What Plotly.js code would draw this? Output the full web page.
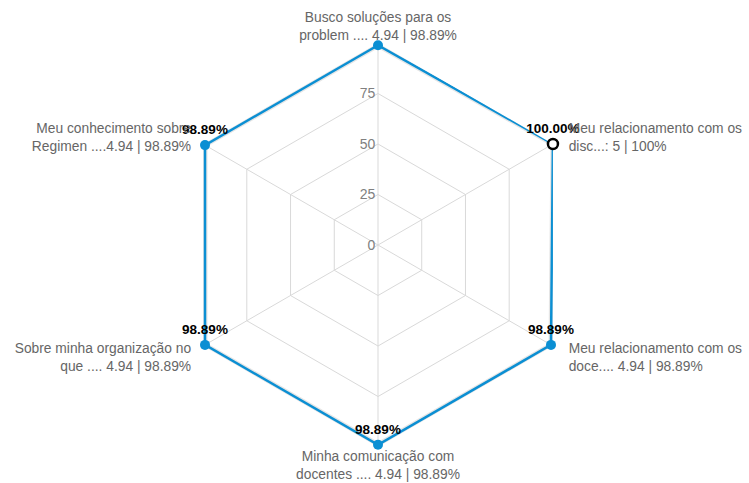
<!DOCTYPE html>
<html>
<head>
<meta charset="utf-8">
<script src="https://cdn.plot.ly/plotly-3.0.1.min.js"></script>
<style>html,body{margin:0;padding:0;background:#fff;}#chart{width:749px;height:483px;}</style>
</head>
<body>
<div id="chart"></div>
<script>
const NB = "\u00a0\u00a0\u00a0\u00a0";
const NBL = "\u00a0\u00a0\u00a0";
const categories = [
  "Busco soluções para os<br>problem .... 4.94 | 98.89%",
  NB + "Meu relacionamento com os<br>" + NB + "disc...: 5 | 100%",
  NB + "Meu relacionamento com os<br>" + NB + "doce.... 4.94 | 98.89%",
  "Minha comunicação com<br>docentes .... 4.94 | 98.89%",
  "Sobre minha organização no" + NBL + "<br>que .... 4.94 | 98.89%" + NBL,
  "Meu conhecimento sobre" + NBL + "<br>Regimen ....4.94 | 98.89%" + NBL
];
const values = [98.89, 100, 98.89, 98.89, 98.89, 98.89];
const pointLabels = ["", "100.00%", "98.89%", "98.89%", "98.89%", "98.89%"];
const radialTicks = [0, 25, 50, 75, 100];
const radialTickText = ["0", "25", "50", "75", ""];

const blue = "#0b8fd3";
const markerColors = values.map(v => v >= 100 ? "#ffffff" : blue);
const markerLines = values.map(v => v >= 100 ? "#000000" : blue);

const closedTheta = categories.concat([categories[0]]);
const closedR = values.concat([values[0]]);

const traces = [
  {
    type: "scatterpolar",
    r: closedR,
    theta: closedTheta,
    mode: "lines",
    line: {color: "rgba(0,0,0,0.10)", width: 5},
    hoverinfo: "skip",
    showlegend: false
  },
  {
    type: "scatterpolar",
    r: closedR,
    theta: closedTheta,
    mode: "lines",
    line: {color: blue, width: 2.5},
    hoverinfo: "skip",
    showlegend: false
  },
  {
    type: "scatterpolar",
    r: values,
    theta: categories,
    mode: "markers+text",
    text: pointLabels,
    textposition: "top center",
    textfont: {family: "Liberation Sans, Arial, sans-serif", size: 13.5, color: "#000", weight: "bold"},
    marker: {size: 10, color: markerColors, line: {color: markerLines, width: values.map(v => v >= 100 ? 2.5 : 0)}},
    showlegend: false
  }
];

const layout = {
  width: 749,
  height: 483,
  margin: {l: 7, r: 0, t: 43, b: 36},
  paper_bgcolor: "#ffffff",
  font: {family: "Liberation Sans, Arial, sans-serif", size: 13, color: "#666"},
  showlegend: false,
  polar: {
    bgcolor: "#ffffff",
    gridshape: "linear",
    domain: {x: [0, 1], y: [0, 1]},
    radialaxis: {
      range: [0, 100],
      angle: 90,
      tickangle: 90,
      side: "counterclockwise",
      tickvals: radialTicks,
      ticktext: radialTickText,
      showline: false,
      ticks: "",
      gridcolor: "#d9d9d9",
      gridwidth: 1,
      tickfont: {size: 14, color: "#808080"}
    },
    angularaxis: {
      direction: "clockwise",
      rotation: 90,
      showline: false,
      ticks: "",
      gridcolor: "#d9d9d9",
      gridwidth: 1,
      tickfont: {size: 13.8, color: "#666"}
    }
  }
};

Plotly.newPlot("chart", traces, layout, {displayModeBar: false, staticPlot: true});
</script>
</body>
</html>
